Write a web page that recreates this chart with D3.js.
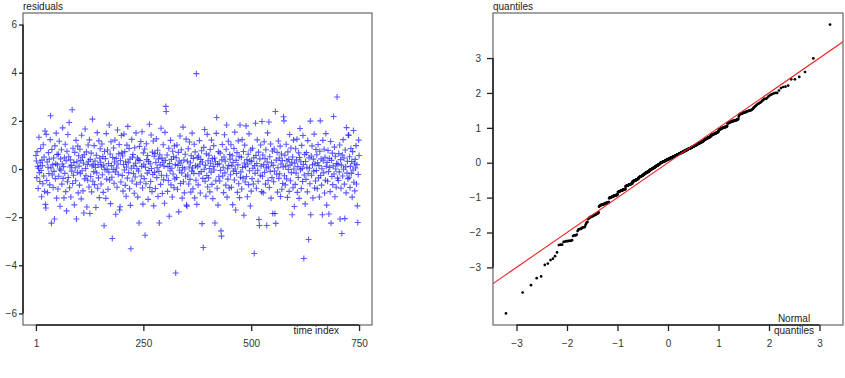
<!DOCTYPE html>
<html>
<head>
<meta charset="utf-8">
<title>Residuals and normal QQ plot</title>
<script src="https://cdn.jsdelivr.net/npm/d3@7"></script>
<style>
  body { margin: 0; background: #fff; }
  text { font-family: "Liberation Sans", Arial, sans-serif; }
</style>
</head>
<body>
<script>
// residuals in time order (index 1..750)
var residuals = [
  0.56,0.33,-0.36,0.72,0.11,-0.81,0.03,1.32,-0.15,-0.52,0.26,0.85,-0.06,-1.15,0.37,0.14,-0.61,1.01,-0.29,0.50,-0.93,1.58,-1.47,-1.62,1.44,
  -0.48,0.29,-0.98,0.07,0.68,-0.19,0.41,-0.66,1.22,2.21,0.04,-2.25,0.81,-0.25,0.18,-0.77,0.46,-0.10,-2.08,0.96,-0.40,0.22,1.49,-1.21,0.60,
  0.17,-0.83,0.61,-0.30,1.15,0.00,-1.55,0.42,-0.05,0.80,-0.63,0.21,1.71,-0.39,0.10,-1.20,0.47,-0.18,1.03,-0.94,0.34,-1.74,0.74,-0.53,1.43,
  -0.35,0.51,1.93,-0.78,0.08,0.38,-1.16,0.15,-0.09,2.46,-0.60,0.86,-0.26,0.27,-1.49,0.69,0.05,-0.49,1.19,-2.08,0.30,-0.14,0.95,-0.99,0.55,
  0.12,-0.67,0.82,-0.20,0.36,-1.24,1.40,-0.07,0.49,-0.91,0.25,-1.83,0.59,-0.41,1.66,0.02,-0.28,0.71,-1.58,0.19,-0.47,1.00,0.32,-0.75,1.21,
  -1.85,0.40,-0.31,0.66,-0.95,0.13,2.07,-0.51,0.20,-0.11,0.97,-0.65,0.33,0.06,-1.60,0.57,-0.16,1.51,-0.80,0.18,-0.37,1.17,-1.19,0.45,0.84,
  0.28,-0.62,0.09,1.04,-0.24,0.52,-0.97,0.16,-2.36,0.73,-0.03,0.43,-1.22,1.47,-0.42,0.00,0.79,-0.84,0.23,-0.13,1.83,-0.46,0.62,-1.44,1.13,
  0.14,-0.34,-2.89,0.48,-0.02,0.87,-0.59,0.29,1.20,-0.12,-1.88,0.44,0.04,-0.76,1.62,0.21,-0.22,0.63,1.02,-1.70,-1.57,0.35,-0.54,1.39,0.67,
  -0.27,0.54,-0.92,0.19,1.45,-0.04,0.72,-0.68,0.30,-1.13,0.08,0.99,-0.38,1.77,0.26,-0.15,0.85,-0.82,0.41,-1.51,-3.31,0.03,1.23,-0.50,0.50,
  0.60,-0.19,0.13,-1.01,0.88,-0.33,0.24,1.50,-0.63,0.01,0.46,-1.17,0.38,-0.08,-2.24,0.94,0.35,-0.55,1.14,-0.29,0.11,1.55,-0.79,-1.46,0.67,
  0.20,-0.40,0.83,-2.75,0.07,-0.61,1.05,0.39,-0.17,0.56,-1.26,0.31,-0.06,1.86,-0.77,0.22,-0.52,1.41,0.02,-0.94,0.70,-0.23,1.16,-1.53,0.53,
  -0.14,0.65,-0.81,0.27,1.25,-0.36,0.05,0.78,-1.14,0.42,-0.10,-2.24,0.59,0.17,-0.64,1.69,-0.26,0.45,-1.02,0.28,1.01,-0.45,0.12,-1.42,1.52,
  0.36,2.60,2.39,-0.28,0.58,-0.93,0.10,-0.48,0.86,-1.96,0.23,-0.07,1.19,-0.66,0.40,0.03,-1.16,0.74,-0.21,0.51,-0.78,0.96,-0.41,0.18,-4.32,
  0.47,-0.35,1.00,-0.84,0.15,0.69,-1.78,0.33,-0.05,1.37,-0.60,0.25,0.80,-0.16,-1.21,0.06,1.74,-0.53,0.37,-0.99,0.00,0.61,-0.30,1.24,-1.50,
  -1.55,0.32,-0.25,0.84,-0.62,0.08,1.12,-0.43,0.26,-0.96,0.55,-0.09,1.49,0.04,-0.82,0.44,-0.18,1.03,-1.20,0.71,0.14,-0.47,3.96,-1.47,0.48,
  0.09,-0.66,0.54,-0.20,1.18,0.21,-1.00,0.40,-0.11,0.76,-2.27,0.29,-0.39,-3.26,0.90,-0.01,1.64,-0.51,0.16,-1.13,0.63,-0.27,1.44,-0.75,0.34,
  -0.37,0.57,0.02,-0.95,0.81,0.24,-0.13,1.20,-0.64,0.43,-1.23,0.11,0.97,-0.04,0.46,-2.24,0.30,-0.49,1.48,2.14,-0.80,0.19,-1.50,0.72,-0.32,
  0.22,-0.50,0.66,-0.06,-2.57,-2.79,0.38,1.02,-0.29,0.07,-0.98,0.50,1.42,-0.16,0.32,-0.67,0.82,1.83,-1.17,0.01,-0.42,1.15,0.15,-0.79,0.60,
  0.41,-0.24,1.01,-0.76,0.13,0.55,-1.48,0.27,-0.09,0.85,-0.46,1.53,0.00,-1.70,0.36,-0.19,0.68,-0.97,0.17,1.17,-0.61,0.52,-1.19,1.83,-0.34,
  -0.12,0.49,-0.83,1.22,0.06,-0.38,0.73,-1.92,0.25,0.99,-0.54,0.10,1.79,-0.31,0.39,-1.15,0.20,0.61,-0.65,1.46,-0.07,0.34,-1.54,0.79,-0.92,
  0.31,-0.40,0.86,0.03,-0.62,0.47,-3.51,0.14,-0.18,1.90,0.56,-0.80,0.23,1.21,-0.05,-0.51,0.70,-2.10,-2.35,0.42,-0.26,1.00,0.12,-0.94,1.97,
  -0.30,0.58,-0.99,0.18,1.13,-0.14,0.43,-0.63,0.80,0.04,-2.35,0.29,1.50,-0.48,0.09,1.95,-0.77,0.51,-0.10,1.04,-1.21,0.26,-0.36,0.75,-1.85,
  0.15,-0.53,0.83,-0.08,-1.85,2.39,-2.26,0.37,-0.22,0.69,-0.96,0.05,1.16,-0.39,0.45,-0.20,0.95,-1.14,0.21,0.62,-0.84,0.35,-0.60,0.08,2.17,
  2.00,-0.28,0.57,-0.66,0.12,1.03,-0.41,0.33,-1.18,0.71,-0.02,0.40,-0.93,1.43,0.16,-0.49,0.87,-0.15,0.28,-1.90,0.50,-0.78,1.20,0.00,-1.56,
  0.24,-0.64,0.84,-0.17,0.38,1.24,-0.97,0.10,-0.35,0.67,-1.22,0.48,1.68,-0.03,0.30,-0.81,0.98,0.02,-0.52,1.39,0.19,-3.72,-0.25,0.60,-1.45,
  0.31,-0.43,0.68,0.07,-0.95,1.18,-0.19,-2.93,0.47,0.03,-0.61,1.99,-1.90,0.54,-0.26,0.96,0.17,-1.20,0.41,-0.09,1.45,-0.79,0.22,-0.50,0.81,
  -0.06,0.59,-0.82,0.26,1.02,-0.37,0.14,-1.16,0.74,2.00,-0.27,0.42,-0.67,0.01,-1.90,1.19,0.34,-0.16,0.82,-1.00,0.49,-0.47,1.47,0.11,-1.50,
  0.27,-0.51,0.77,-0.11,-1.87,0.44,0.06,-0.94,1.14,-2.25,0.36,-0.31,0.66,-0.65,0.13,2.18,-0.21,0.91,-1.15,0.53,0.00,-0.76,0.23,2.99,-0.38,
  0.20,-0.48,0.64,-0.12,1.00,-2.08,0.39,-0.80,0.16,-2.68,0.58,-0.29,1.22,-0.01,0.46,-0.63,-2.06,0.79,0.09,-0.99,1.72,-0.17,0.32,-0.40,1.41,
  1.40,-0.34,0.51,-0.77,0.11,0.85,-0.18,0.31,-1.17,0.72,-0.04,1.60,-0.55,0.24,-0.91,0.40,0.04,0.97,-0.62,0.18,-1.53,-2.22,-0.23,1.20,0.56
];

var timeTicks = [1, 250, 500, 750];
var residTicks = [-6, -4, -2, 0, 2, 4, 6];
var residLimits = [-6, 6];
var normTicks = [-3, -2, -1, 0, 1, 2, 3];
var quantTicks = [-3, -2, -1, 0, 1, 2, 3];
var refLine = { intercept: 0, slope: 1 };   // red reference line

var width = 845, height = 378;
var panelL = { x0: 23, x1: 372, y0: 13, y1: 325, ytick: 4, ypad: 2 };
var panelR = { x0: 493, x1: 843, y0: 13, y1: 325, ytick: 6, ypad: 6 };

var svg = d3.select("body").append("svg").attr("width", width).attr("height", height);

// R style 4% padding of the data range
function pad(ext) {
  var r = ext[1] - ext[0];
  return [ext[0] - 0.04 * r, ext[1] + 0.04 * r];
}
function fmt(d) { return d < 0 ? "\u2212" + Math.abs(d) : String(d); }

// inverse normal cdf (Acklam)
function qnorm(p) {
  var a = [-3.969683028665376e+01, 2.209460984245205e+02, -2.759285104469687e+02, 1.383577518672690e+02, -3.066479806614716e+01, 2.506628277459239e+00];
  var b = [-5.447609879822406e+01, 1.615858368580409e+02, -1.556989798598866e+02, 6.680131188771972e+01, -1.328068155288572e+01];
  var c = [-7.784894002430293e-03, -3.223964580411365e-01, -2.400758277161838e+00, -2.549732539343734e+00, 4.374664141464968e+00, 2.938163982698783e+00];
  var d = [7.784695709041462e-03, 3.224671290700398e-01, 2.445134137142996e+00, 3.754408661907416e+00];
  var plow = 0.02425, q, r;
  if (p < plow) {
    q = Math.sqrt(-2 * Math.log(p));
    return (((((c[0]*q+c[1])*q+c[2])*q+c[3])*q+c[4])*q+c[5]) / ((((d[0]*q+d[1])*q+d[2])*q+d[3])*q+1);
  }
  if (p > 1 - plow) {
    q = Math.sqrt(-2 * Math.log(1 - p));
    return -(((((c[0]*q+c[1])*q+c[2])*q+c[3])*q+c[4])*q+c[5]) / ((((d[0]*q+d[1])*q+d[2])*q+d[3])*q+1);
  }
  q = p - 0.5; r = q * q;
  return (((((a[0]*r+a[1])*r+a[2])*r+a[3])*r+a[4])*r+a[5])*q / (((((b[0]*r+b[1])*r+b[2])*r+b[3])*r+b[4])*r+1);
}

// draws frame, axes and the axis lines between first and last tick
function drawFrame(p, xScale, yScale, xTicks, yTicks) {
  svg.append("rect")
    .attr("x", p.x0).attr("y", p.y0)
    .attr("width", p.x1 - p.x0).attr("height", p.y1 - p.y0)
    .attr("fill", "none").attr("stroke", "#666").attr("stroke-width", 1.2);

  var gx = svg.append("g").attr("transform", "translate(0," + p.y1 + ")")
    .call(d3.axisBottom(xScale).tickValues(xTicks).tickFormat(fmt).tickSize(6).tickPadding(9));
  var gy = svg.append("g").attr("transform", "translate(" + p.x0 + ",0)")
    .call(d3.axisLeft(yScale).tickValues(yTicks).tickFormat(fmt).tickSize(p.ytick).tickPadding(p.ypad));

  [gx, gy].forEach(function (g) {
    g.select(".domain").remove();
    g.selectAll("line").attr("stroke", "#222").attr("stroke-width", 1.3);
    g.selectAll("text").attr("fill", "#333").attr("font-size", "10px")
      .attr("font-family", "'Liberation Sans', Arial, sans-serif");
  });

  svg.append("line")
    .attr("x1", xScale(xTicks[0])).attr("x2", xScale(xTicks[xTicks.length - 1]))
    .attr("y1", p.y1).attr("y2", p.y1)
    .attr("stroke", "#222").attr("stroke-width", 1.6);
  svg.append("line")
    .attr("x1", p.x0).attr("x2", p.x0)
    .attr("y1", yScale(yTicks[0])).attr("y2", yScale(yTicks[yTicks.length - 1]))
    .attr("stroke", "#222").attr("stroke-width", 1.6);
}

function label(x, y, anchor, txt) {
  svg.append("text").attr("x", x).attr("y", y)
    .attr("text-anchor", anchor).attr("font-size", "10px").attr("fill", "#222")
    .text(txt);
}

// ---- left panel: residuals against time index
var xL = d3.scaleLinear().domain(pad([1, residuals.length])).range([panelL.x0, panelL.x1]);
var yL = d3.scaleLinear().domain(pad(residLimits)).range([panelL.y1, panelL.y0]);

svg.append("g")
  .selectAll("path")
  .data(residuals)
  .enter()
  .append("path")
  .attr("d", "M-3,0H3M0,-3V3")
  .attr("transform", function (d, i) { return "translate(" + xL(i + 1) + "," + yL(d) + ")"; })
  .attr("stroke", "#0000ff")
  .attr("stroke-opacity", 0.65)
  .attr("stroke-width", 1.1)
  .attr("fill", "none");

drawFrame(panelL, xL, yL, timeTicks, residTicks);
label(panelL.x0, 10, "start", "residuals");
label(339, 334, "end", "time index");

// ---- right panel: normal QQ plot of the same residuals
var n = residuals.length;
var sorted = residuals.slice().sort(d3.ascending);
var qq = sorted.map(function (v, i) { return { x: qnorm((i + 0.5) / n), y: v }; });

var xR = d3.scaleLinear().domain(pad(d3.extent(qq, function (d) { return d.x; }))).range([panelR.x0, panelR.x1]);
var yR = d3.scaleLinear().domain(pad(d3.extent(qq, function (d) { return d.y; }))).range([panelR.y1, panelR.y0]);

svg.append("clipPath").attr("id", "clipR")
  .append("rect")
  .attr("x", panelR.x0).attr("y", panelR.y0)
  .attr("width", panelR.x1 - panelR.x0).attr("height", panelR.y1 - panelR.y0);

svg.append("g")
  .selectAll("circle")
  .data(qq)
  .enter()
  .append("circle")
  .attr("cx", function (d) { return xR(d.x); })
  .attr("cy", function (d) { return yR(d.y); })
  .attr("r", 1.35)
  .attr("fill", "#000");

var xd = xR.domain();
svg.append("line")
  .attr("clip-path", "url(#clipR)")
  .attr("x1", xR(xd[0])).attr("y1", yR(refLine.intercept + refLine.slope * xd[0]))
  .attr("x2", xR(xd[1])).attr("y2", yR(refLine.intercept + refLine.slope * xd[1]))
  .attr("stroke", "#ee2222")
  .attr("stroke-width", 1.1);

drawFrame(panelR, xR, yR, normTicks, quantTicks);
label(panelR.x0, 10, "start", "quantiles");
label(794, 322, "middle", "Normal");
label(794, 334, "middle", "quantiles");
</script>
</body>
</html>
